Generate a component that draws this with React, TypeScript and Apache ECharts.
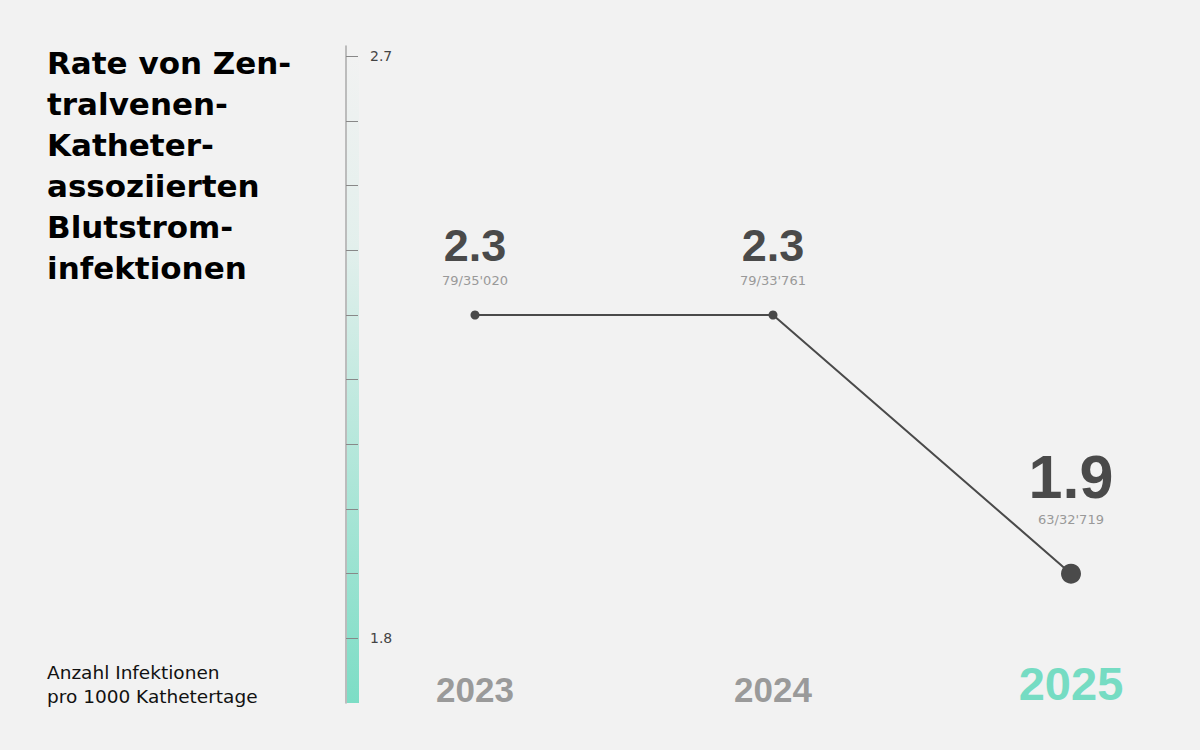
import React, { useEffect, useRef } from "react";
import * as echarts from "echarts";

const years = ["2023", "2024", "2025"];
const rates = [2.3, 2.3, 1.9];
const counts = ["79/35'020", "79/33'761", "63/32'719"];
const yTicks = [1.8, 1.9, 2.0, 2.1, 2.2, 2.3, 2.4, 2.5, 2.6, 2.7];
const yLabels = [1.8, 2.7];
const titleText = "Rate von Zen-\ntralvenen-\nKatheter-\nassoziierten\nBlutstrom-\ninfektionen";
const unitText = "Anzahl Infektionen\npro 1000 Kathetertage";

const FONT = "'Liberation Sans', Arial, sans-serif";
const WIDE = "'DejaVu Sans', 'Liberation Sans', sans-serif";
const TEAL = "#76dcc3";
const DARK = "#4a4a4a";

export default function App() {
  const ref = useRef<HTMLDivElement>(null);
  useEffect(() => {
    if (!ref.current) return;
    const chart = echarts.init(ref.current, null, { renderer: "svg" });
    const last = rates.length - 1;
    chart.setOption({
      animation: false,
      backgroundColor: "#f2f2f2",
      textStyle: { fontFamily: FONT },
      grid: { left: 475, right: 129, top: 46, bottom: 47, containLabel: false },
      graphic: [
        {
          type: "rect",
          left: 347,
          top: 46,
          z: 0,
          shape: { width: 12, height: 657 },
          style: {
            fill: new echarts.graphic.LinearGradient(0, 0, 0, 1, [
              { offset: 0, color: "rgba(118,220,195,0)" },
              { offset: 0.3, color: "rgba(118,220,195,0.12)" },
              { offset: 1, color: "rgba(118,220,195,0.95)" },
            ]),
          },
        },
        {
          type: "text",
          left: 47,
          top: 42,
          style: {
            text: titleText,
            font: `bold 31px ${WIDE}`,
            lineHeight: 41,
            fill: "#000",
          },
        },
        {
          type: "text",
          left: 47,
          top: 660,
          style: {
            text: unitText,
            font: `18.5px ${WIDE}`,
            lineHeight: 24,
            fill: "#111",
          },
        },
      ],
      xAxis: {
        type: "category",
        data: years,
        boundaryGap: false,
        axisLine: { show: false },
        axisTick: { show: false },
        splitLine: { show: false },
        axisLabel: {
          inside: true,
          margin: -4,
          formatter: (v: string) => (v === years[last] ? `{hl|${v}}` : `{n|${v}}`),
          rich: {
            n: { fontFamily: FONT, fontWeight: "bold", fontSize: 35, color: "#9a9a9a" },
            hl: { fontFamily: FONT, fontWeight: "bold", fontSize: 47, color: TEAL },
          },
        },
      },
      yAxis: {
        type: "value",
        min: 1.7,
        max: 2.716,
        position: "left",
        offset: 129,
        splitLine: { show: false },
        axisLine: { show: true, lineStyle: { color: "#aaaaaa", width: 1.5 } },
        axisTick: {
          show: true,
          inside: true,
          length: 12,
          customValues: yTicks,
          lineStyle: { color: "#888888", width: 1 },
        },
        axisLabel: {
          inside: true,
          margin: 24,
          customValues: yLabels,
          formatter: (v: number) => v.toFixed(1),
          fontFamily: WIDE,
          fontSize: 14,
          color: "#444",
        },
      },
      series: [
        {
          type: "line",
          data: rates.map((r, i) => ({
            value: r,
            symbolSize: i === last ? 20 : 9,
            label: {
              distance: i === last ? 36 : 22,
              formatter: () => `{${i === last ? "vb" : "v"}|${r.toFixed(1)}}\n{s|${counts[i]}}`,
            },
          })),
          symbol: "circle",
          lineStyle: { color: DARK, width: 2 },
          itemStyle: { color: DARK },
          label: {
            show: true,
            position: "top",
            align: "center",
            rich: {
              v: { fontFamily: FONT, fontSize: 45, fontWeight: "bold", color: DARK, lineHeight: 54, align: "center" },
              vb: { fontFamily: FONT, fontSize: 61, fontWeight: "bold", color: DARK, lineHeight: 70, align: "center" },
              s: { fontFamily: WIDE, fontSize: 13, color: "#999", lineHeight: 16, align: "center" },
            },
          },
        },
      ],
    });
    return () => chart.dispose();
  }, []);
  return (
    <div
      ref={ref}
      style={{ position: "fixed", left: 0, top: 0, width: 1200, height: 750 }}
    />
  );
}
